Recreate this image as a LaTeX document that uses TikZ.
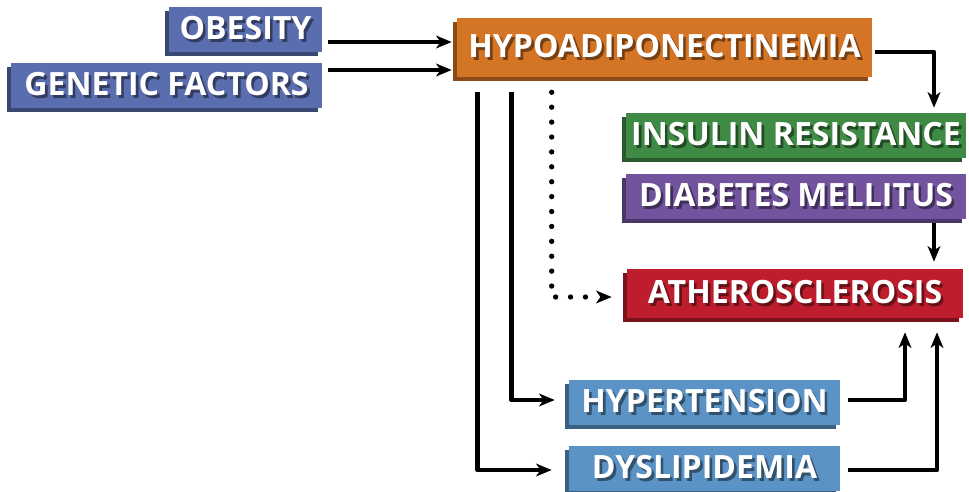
\documentclass[tikz,border=0pt]{standalone}
\usepackage{fontspec}
\setmainfont{Open Sans}
\usetikzlibrary{arrows.meta,shadows}
\definecolor{obblue}{HTML}{5A6DAE}
\definecolor{hyorange}{HTML}{D47425}
\definecolor{irgreen}{HTML}{3F8A44}
\definecolor{dmpurple}{HTML}{72549E}
\definecolor{atred}{HTML}{BD1D2C}
\definecolor{htblue}{HTML}{5B93C6}
\newcommand{\embtext}[2]{\makebox[0pt][l]{\hspace{1.9pt}\raisebox{-1.9pt}{\color{#1!55!black}#2}}{\color{white}#2}}
\tikzset{
  box/.style={fill=#1, inner sep=0pt, font=\bfseries\fontsize{22.8}{23}\selectfont,
    general shadow={fill=#1!65!black, shadow xshift=-3pt, shadow yshift=-3pt}},
  arr/.style={line width=3.3pt, line join=round, -{Stealth[length=11pt,width=9pt,inset=3pt]}},
  dots/.style={line width=3.8pt, line cap=round, dash pattern=on 0pt off 10.6pt}
}
\begin{document}
\begin{tikzpicture}[x=0.025cm,y=-0.025cm]
    \useasboundingbox (0,0) rectangle (969,492);
    \foreach \n/\x/\y/\w/\h/\c/\t in {
      obes/245.5/29.5/3.825/1.125/obblue/OBESITY,
      gene/166.5/85.5/7.775/1.125/obblue/GENETIC FACTORS,
      hypo/664.5/47.5/10.375/1.475/hyorange/HYPOADIPONECTINEMIA,
      insu/796/135.5/8.5/1.125/irgreen/INSULIN RESISTANCE,
      diab/796/196.5/8.5/1.125/dmpurple/DIABETES MELLITUS,
      athe/795/293.5/8.4/1.225/atred/ATHEROSCLEROSIS,
      hype/704.5/402.5/6.775/1.125/htblue/HYPERTENSION,
      dysl/704.5/468.5/6.775/1.125/htblue/DYSLIPIDEMIA}{
      \node[box=\c, minimum width=\w cm, minimum height=\h cm] (\n) at (\x,\y) {\embtext{\c}{\t}};
    }
    % into hypoadiponectinemia
    \draw[arr] ([shift={(6,12.5)}]obes.east) -- ([shift={(-5,12.5)}]obes.east -| hypo.west);
    \draw[arr] ([shift={(6,-15.5)}]gene.east) -- ([shift={(-5,-15.5)}]gene.east -| hypo.west);
    % right hand chain
    \draw[arr] ([shift={(3,4.5)}]hypo.east) -| ([shift={(138,-5)}]insu.north);
    \draw[line width=3.3pt] ([xshift=138]insu.south) -- ([xshift=138]diab.north);
    \draw[arr] ([shift={(138,4)}]diab.south) -- ([shift={(139,-7)}]athe.north);
    % down from hypoadiponectinemia
    \draw[arr] ([shift={(21,15)}]hypo.south west) |- ([shift={(-17,1.5)}]dysl.west);
    \draw[arr] ([shift={(55,15)}]hypo.south west) |- ([shift={(-14,-2.5)}]hype.west);
    \draw[dots] ([shift={(95,15)}]hypo.south west) |- ([shift={(-28,3.5)}]athe.west);
    \draw[line width=3.3pt, -{Stealth[length=11pt,width=9pt,inset=3pt]}] ([shift={(-24,3.5)}]athe.west) -- ([shift={(-15,3.5)}]athe.west);
    % up into atherosclerosis
    \draw[arr] ([shift={(8,-2.5)}]hype.east) -| ([shift={(110,14)}]athe.south);
    \draw[arr] ([shift={(8,1.5)}]dysl.east) -| ([shift={(142,14)}]athe.south);
\end{tikzpicture}
\end{document}
